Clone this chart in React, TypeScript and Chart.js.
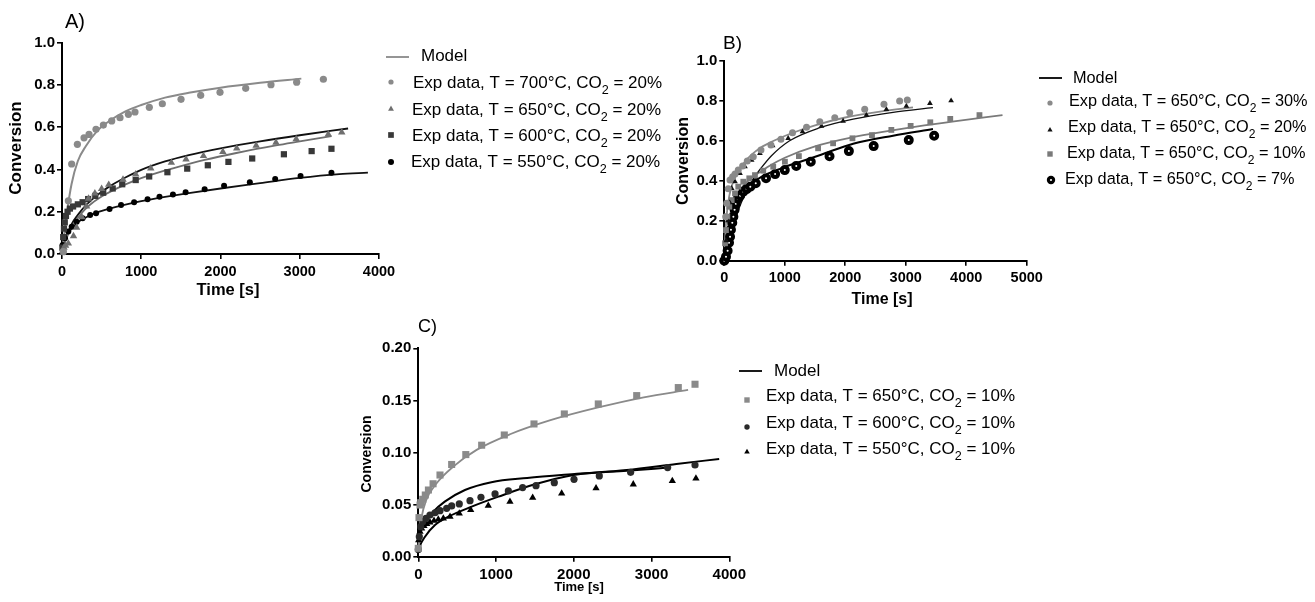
import { useEffect, useRef } from 'react';
import { Chart, registerables } from 'chart.js';

Chart.register(...registerables);

const FONT = '"Liberation Sans", Arial, Helvetica, sans-serif';

// ---------------- Panel A (CO2 = 20%, various T) ----------------
const aExp700T = [17, 80, 122, 194, 278, 341, 429, 522, 627, 732, 838, 921, 1102, 1266, 1502, 1750, 1994, 2318, 2637, 2961, 3298];
const aExp700V = [0.011, 0.252, 0.426, 0.519, 0.55, 0.566, 0.59, 0.61, 0.63, 0.645, 0.661, 0.672, 0.694, 0.711, 0.732, 0.751, 0.765, 0.784, 0.801, 0.813, 0.827];
const aExp650T = [10, 25, 45, 80, 145, 185, 250, 310, 335, 415, 500, 590, 770, 930, 1120, 1380, 1565, 1785, 2030, 2205, 2450, 2700, 2955, 3360, 3530];
const aExp650V = [0.015, 0.03, 0.04, 0.05, 0.085, 0.125, 0.175, 0.225, 0.262, 0.287, 0.308, 0.328, 0.352, 0.377, 0.405, 0.432, 0.448, 0.464, 0.484, 0.5, 0.513, 0.527, 0.544, 0.566, 0.576];
const aExp600T = [5, 15, 25, 35, 50, 70, 100, 140, 200, 260, 330, 420, 520, 640, 760, 930, 1100, 1330, 1580, 1840, 2100, 2400, 2800, 3150, 3400];
const aExp600V = [0.03, 0.08, 0.12, 0.15, 0.18, 0.2, 0.215, 0.225, 0.235, 0.245, 0.26, 0.275, 0.29, 0.31, 0.33, 0.35, 0.367, 0.387, 0.404, 0.42, 0.436, 0.452, 0.472, 0.487, 0.498];
const aExp550T = [8, 38, 80, 122, 185, 260, 355, 430, 600, 745, 910, 1080, 1230, 1400, 1560, 1800, 2045, 2370, 2690, 3010, 3400];
const aExp550V = [0.043, 0.074, 0.106, 0.129, 0.153, 0.169, 0.185, 0.193, 0.213, 0.232, 0.245, 0.259, 0.271, 0.282, 0.292, 0.307, 0.323, 0.339, 0.355, 0.369, 0.385];
const aModel700T = [0, 30, 60, 120, 200, 300, 450, 600, 800, 1000, 1300, 1600, 2000, 2500, 3020];
const aModel700V = [0, 0.1, 0.19, 0.33, 0.44, 0.51, 0.585, 0.63, 0.675, 0.705, 0.74, 0.763, 0.787, 0.81, 0.83];
const aModel650T = [0, 30, 80, 150, 250, 350, 500, 700, 900, 1100, 1400, 1800, 2200, 2700, 3000, 3400];
const aModel650V = [0, 0.045, 0.095, 0.145, 0.195, 0.232, 0.272, 0.312, 0.345, 0.372, 0.405, 0.445, 0.478, 0.514, 0.533, 0.558];
const aModel600T = [0, 20, 60, 120, 200, 300, 450, 600, 800, 1000, 1300, 1600, 2000, 2500, 3000, 3610];
const aModel600V = [0, 0.04, 0.085, 0.14, 0.185, 0.23, 0.28, 0.32, 0.362, 0.398, 0.438, 0.468, 0.5, 0.533, 0.562, 0.594];
const aModel550T = [0, 20, 50, 100, 200, 300, 450, 600, 800, 1000, 1300, 1600, 2000, 2500, 3000, 3500, 3860];
const aModel550V = [0, 0.05, 0.08, 0.11, 0.15, 0.173, 0.198, 0.215, 0.234, 0.25, 0.27, 0.288, 0.31, 0.335, 0.36, 0.378, 0.385];

// ---------------- Panel B (T = 650 C, various CO2) ----------------
const bExp30T = [23, 40, 66, 94, 138, 177, 231, 303, 380, 479, 606, 771, 936, 1128, 1360, 1579, 1827, 2074, 2322, 2640, 2899, 3026];
const bExp30V = [0.22, 0.287, 0.36, 0.403, 0.42, 0.433, 0.453, 0.473, 0.498, 0.52, 0.553, 0.578, 0.607, 0.64, 0.667, 0.695, 0.715, 0.74, 0.757, 0.782, 0.799, 0.803];
const bExp20T = [30, 60, 90, 122, 177, 259, 342, 452, 589, 799, 1056, 1293, 1607, 1964, 2350, 2680, 3010, 3400, 3750];
const bExp20V = [0.1, 0.2, 0.29, 0.362, 0.395, 0.437, 0.47, 0.503, 0.537, 0.575, 0.612, 0.645, 0.673, 0.698, 0.728, 0.757, 0.773, 0.787, 0.8];
const bExp10T = [12, 28, 50, 83, 122, 177, 231, 314, 413, 507, 644, 809, 1002, 1233, 1551, 1799, 2119, 2442, 2762, 3081, 3406, 3736, 4219];
const bExp10V = [0.087, 0.153, 0.22, 0.27, 0.303, 0.337, 0.37, 0.395, 0.412, 0.428, 0.45, 0.47, 0.495, 0.523, 0.562, 0.587, 0.612, 0.628, 0.654, 0.674, 0.692, 0.709, 0.728];
const bExp7T = [0, 28, 55, 78, 95, 110, 132, 150, 170, 190, 222, 262, 314, 369, 430, 520, 690, 840, 1000, 1190, 1430, 1740, 2060, 2470, 3050, 3470];
const bExp7V = [0, 0.02, 0.05, 0.09, 0.12, 0.155, 0.19, 0.22, 0.255, 0.285, 0.31, 0.325, 0.345, 0.358, 0.37, 0.387, 0.412, 0.433, 0.453, 0.474, 0.495, 0.522, 0.548, 0.573, 0.603, 0.625];
const bModel30T = [0, 15, 40, 80, 130, 200, 300, 450, 600, 800, 1100, 1500, 2000, 2600, 3120];
const bModel30V = [0, 0.12, 0.23, 0.32, 0.38, 0.43, 0.48, 0.53, 0.565, 0.597, 0.636, 0.677, 0.716, 0.747, 0.767];
const bModel20T = [0, 60, 120, 230, 370, 480, 600, 780, 1080, 1580, 2130, 2790, 3450];
const bModel20V = [0, 0.06, 0.135, 0.25, 0.35, 0.41, 0.46, 0.525, 0.6, 0.665, 0.708, 0.742, 0.765];
const bModel10T = [0, 30, 70, 120, 200, 300, 450, 600, 750, 1000, 1500, 2100, 2700, 3200, 3800, 4600];
const bModel10V = [0, 0.1, 0.19, 0.26, 0.32, 0.37, 0.415, 0.445, 0.475, 0.515, 0.572, 0.616, 0.648, 0.672, 0.697, 0.728];
const bModel7T = [0, 40, 70, 120, 180, 260, 400, 620, 950, 1280, 1600, 2130, 2790, 3450];
const bModel7V = [0, 0.005, 0.03, 0.12, 0.22, 0.3, 0.37, 0.42, 0.463, 0.497, 0.53, 0.585, 0.625, 0.658];

// ---------------- Panel C (CO2 = 10%, various T) ----------------
const cExp650T = [0, 9, 22, 31, 57, 90, 130, 190, 279, 429, 611, 815, 1106, 1488, 1878, 2315, 2809, 3344, 3559];
const cExp650V = [0.008, 0.0375, 0.0496, 0.0518, 0.0551, 0.0592, 0.064, 0.07, 0.0784, 0.0885, 0.098, 0.107, 0.1168, 0.1274, 0.137, 0.1466, 0.1546, 0.1623, 0.1655];
const cExp600T = [0, 13, 31, 57, 99, 150, 215, 279, 365, 429, 527, 665, 806, 987, 1158, 1342, 1514, 1749, 2003, 2328, 2731, 3207, 3559];
const cExp600V = [0.007, 0.0192, 0.0288, 0.0336, 0.0368, 0.04, 0.0422, 0.0442, 0.0464, 0.0487, 0.0506, 0.0538, 0.057, 0.0602, 0.0631, 0.0663, 0.0682, 0.071, 0.0743, 0.0775, 0.081, 0.0855, 0.088];
const cExp550T = [5, 22, 43, 73, 108, 150, 202, 257, 322, 408, 527, 674, 900, 1179, 1471, 1844, 2286, 2765, 3267, 3571];
const cExp550V = [0.016, 0.024, 0.0272, 0.0295, 0.0314, 0.033, 0.0346, 0.0358, 0.0368, 0.0384, 0.0416, 0.0448, 0.049, 0.0528, 0.0567, 0.0608, 0.0657, 0.0695, 0.0727, 0.0752];
const cModel650T = [0, 10, 40, 100, 230, 450, 750, 1180, 1700, 2300, 2900, 3470];
const cModel650V = [0.005, 0.02, 0.037, 0.054, 0.07, 0.0865, 0.1025, 0.1175, 0.131, 0.143, 0.153, 0.16];
const cModel600T = [0, 20, 86, 215, 386, 686, 1030, 1500, 2000, 2680, 3216];
const cModel600V = [0.004, 0.01, 0.0192, 0.0304, 0.0384, 0.048, 0.0576, 0.0695, 0.0785, 0.0825, 0.0855];
const cModel550T = [0, 10, 40, 100, 170, 340, 600, 940, 1400, 2040, 2680, 3320, 3870];
const cModel550V = [0.012, 0.018, 0.026, 0.035, 0.0416, 0.0528, 0.064, 0.0715, 0.0755, 0.0795, 0.0832, 0.089, 0.0938];

// ---------------- helpers ----------------
const pts = (t: number[], v: number[]) => t.map((x, i) => ({ x, y: v[i] }));

function modelDs(t: number[], v: number[], color: string, width: number) {
  return {
    data: pts(t, v),
    showLine: true,
    borderColor: color,
    backgroundColor: color,
    borderWidth: width,
    pointRadius: 0,
    pointHoverRadius: 0,
    fill: false,
    cubicInterpolationMode: 'monotone',
    clip: false,
  };
}

function expDs(t: number[], v: number[], style: string, color: string, radius: number, extra: any = {}) {
  return {
    data: pts(t, v),
    showLine: false,
    pointStyle: style,
    pointRadius: radius,
    pointHoverRadius: radius,
    backgroundColor: color,
    borderColor: color,
    borderWidth: 0,
    clip: false,
    ...extra,
  };
}

type LegendRow = { kind: string; color: string; mx: number; my: number; r: number; tx: number; ty: number; pre: string; sub: string; post: string };

type Panel = {
  left: number; top: number; w: number; h: number;
  area: { l: number; t: number; r: number; b: number };
  xMax: number; yMax: number; yStep: number; yDec: number;
  xTickSize: number; yTickSize: number;
  label: { text: string; x: number; y: number; size: number };
  yTitle: { x: number; y: number; size: number };
  xTitle: { x: number; y: number; size: number };
  legend: { size: number; lineX1: number; lineX2: number; lineY: number; lineColor: string; modelX: number; modelY: number; rows: LegendRow[] };
  datasets: any[];
};

const PANELS: Panel[] = [
  {
    left: 0, top: 0, w: 680, h: 310,
    area: { l: 62, t: 42.7, r: 379, b: 254 },
    xMax: 4000, yMax: 1.0, yStep: 0.2, yDec: 1,
    xTickSize: 14.5, yTickSize: 15,
    label: { text: 'A)', x: 65, y: 22, size: 20 },
    yTitle: { x: 16, y: 148, size: 17 },
    xTitle: { x: 228, y: 290, size: 16.5 },
    legend: {
      size: 17, lineX1: 386, lineX2: 409, lineY: 57, lineColor: '#8a8a8a', modelX: 421, modelY: 56,
      rows: [
        { kind: 'circle', color: '#8a8a8a', mx: 391, my: 82, r: 2.6, tx: 413, ty: 83, pre: 'Exp data, T = 700°C, CO', sub: '2', post: ' = 20%' },
        { kind: 'triangle', color: '#6f6f6f', mx: 391, my: 109, r: 3.4, tx: 412, ty: 110, pre: 'Exp data, T = 650°C, CO', sub: '2', post: ' = 20%' },
        { kind: 'square', color: '#383838', mx: 391, my: 135, r: 3.8, tx: 412, ty: 136, pre: 'Exp data, T = 600°C, CO', sub: '2', post: ' = 20%' },
        { kind: 'circle', color: '#000000', mx: 391, my: 162, r: 3, tx: 411, ty: 162, pre: 'Exp data, T = 550°C, CO', sub: '2', post: ' = 20%' },
      ],
    },
    datasets: [
      expDs(aExp700T, aExp700V, 'circle', '#8a8a8a', 3.6),
      expDs(aExp650T, aExp650V, 'triangle', '#6f6f6f', 4.3),
      expDs(aExp600T, aExp600V, 'rect', '#383838', 4.4),
      expDs(aExp550T, aExp550V, 'circle', '#000000', 3),
      modelDs(aModel700T, aModel700V, '#8a8a8a', 2),
      modelDs(aModel650T, aModel650V, '#6f6f6f', 1.8),
      modelDs(aModel600T, aModel600V, '#111111', 1.8),
      modelDs(aModel550T, aModel550V, '#111111', 1.8),
    ],
  },
  {
    left: 650, top: 0, w: 665, h: 320,
    area: { l: 724.3, t: 60.7, r: 1026.7, b: 260.7 },
    xMax: 5000, yMax: 1.0, yStep: 0.2, yDec: 1,
    xTickSize: 14.5, yTickSize: 15,
    label: { text: 'B)', x: 723, y: 44, size: 19 },
    yTitle: { x: 684, y: 161, size: 16 },
    xTitle: { x: 882, y: 300, size: 16 },
    legend: {
      size: 16.3, lineX1: 1039, lineX2: 1062, lineY: 78, lineColor: '#000000', modelX: 1073, modelY: 79,
      rows: [
        { kind: 'circle', color: '#8a8a8a', mx: 1050, my: 103, r: 2.6, tx: 1069, ty: 102, pre: 'Exp data, T = 650°C, CO', sub: '2', post: ' = 30%' },
        { kind: 'triangle', color: '#111111', mx: 1050, my: 130, r: 3, tx: 1068, ty: 128, pre: 'Exp data, T = 650°C, CO', sub: '2', post: ' = 20%' },
        { kind: 'square', color: '#7a7a7a', mx: 1050, my: 154, r: 3.6, tx: 1067, ty: 154, pre: 'Exp data, T = 650°C, CO', sub: '2', post: ' = 10%' },
        { kind: 'ring', color: '#000000', mx: 1051, my: 180, r: 4.2, tx: 1065, ty: 180, pre: 'Exp data, T = 650°C, CO', sub: '2', post: ' = 7%' },
      ],
    },
    datasets: [
      expDs(bExp30T, bExp30V, 'circle', '#8a8a8a', 3.5),
      expDs(bExp20T, bExp20V, 'triangle', '#111111', 3.3),
      expDs(bExp10T, bExp10V, 'rect', '#7a7a7a', 4.1),
      expDs(bExp7T, bExp7V, 'circle', '#ffffff', 3, { borderColor: '#000000', borderWidth: 4 }),
      modelDs(bModel30T, bModel30V, '#8a8a8a', 1.8),
      modelDs(bModel20T, bModel20V, '#111111', 1.3),
      modelDs(bModel10T, bModel10V, '#7a7a7a', 1.8),
      modelDs(bModel7T, bModel7V, '#000000', 2),
    ],
  },
  {
    left: 340, top: 310, w: 975, h: 292,
    area: { l: 418.3, t: 348.3, r: 729.3, b: 556.7 },
    xMax: 4000, yMax: 0.2, yStep: 0.05, yDec: 2,
    xTickSize: 15, yTickSize: 15,
    label: { text: 'C)', x: 418, y: 327, size: 18 },
    yTitle: { x: 367, y: 454, size: 14 },
    xTitle: { x: 579, y: 587, size: 13 },
    legend: {
      size: 17, lineX1: 739, lineX2: 762, lineY: 371, lineColor: '#000000', modelX: 774, modelY: 371,
      rows: [
        { kind: 'square', color: '#8a8a8a', mx: 747, my: 400, r: 3.6, tx: 766, ty: 396, pre: 'Exp data, T = 650°C, CO', sub: '2', post: ' = 10%' },
        { kind: 'circle', color: '#2a2a2a', mx: 747, my: 427, r: 2.7, tx: 766, ty: 423, pre: 'Exp data, T = 600°C, CO', sub: '2', post: ' = 10%' },
        { kind: 'triangle', color: '#000000', mx: 747, my: 452, r: 3.2, tx: 766, ty: 449, pre: 'Exp data, T = 550°C, CO', sub: '2', post: ' = 10%' },
      ],
    },
    datasets: [
      expDs(cExp650T, cExp650V, 'rect', '#8a8a8a', 5),
      expDs(cExp600T, cExp600V, 'circle', '#2a2a2a', 3.6),
      expDs(cExp550T, cExp550V, 'triangle', '#000000', 4.2),
      modelDs(cModel650T, cModel650V, '#8a8a8a', 1.8),
      modelDs(cModel600T, cModel600V, '#000000', 2),
      modelDs(cModel550T, cModel550V, '#000000', 2),
    ],
  },
];

function drawMarker(ctx: CanvasRenderingContext2D, kind: string, x: number, y: number, r: number, color: string) {
  ctx.fillStyle = color;
  ctx.beginPath();
  if (kind === 'circle') {
    ctx.arc(x, y, r, 0, Math.PI * 2);
    ctx.fill();
  } else if (kind === 'triangle') {
    ctx.moveTo(x, y - r);
    ctx.lineTo(x + r * 0.866, y + r * 0.5);
    ctx.lineTo(x - r * 0.866, y + r * 0.5);
    ctx.closePath();
    ctx.fill();
  } else if (kind === 'square') {
    ctx.rect(x - r * 0.75, y - r * 0.75, r * 1.5, r * 1.5);
    ctx.fill();
  } else if (kind === 'ring') {
    ctx.arc(x, y, r, 0, Math.PI * 2);
    ctx.fill();
    ctx.beginPath();
    ctx.fillStyle = '#ffffff';
    ctx.arc(x, y, r * 0.25, 0, Math.PI * 2);
    ctx.fill();
  }
}

function decorPlugin(p: Panel, id: number) {
  return {
    id: 'decor' + id,
    afterDraw(chart: any) {
      const ctx: CanvasRenderingContext2D = chart.ctx;
      ctx.save();
      ctx.translate(-p.left, -p.top);
      ctx.fillStyle = '#000';
      ctx.textBaseline = 'middle';
      // panel label
      ctx.textAlign = 'left';
      ctx.font = `${p.label.size}px ${FONT}`;
      ctx.fillText(p.label.text, p.label.x, p.label.y);
      // axis titles
      ctx.textAlign = 'center';
      ctx.font = `bold ${p.xTitle.size}px ${FONT}`;
      ctx.fillText('Time [s]', p.xTitle.x, p.xTitle.y);
      ctx.save();
      ctx.translate(p.yTitle.x, p.yTitle.y);
      ctx.rotate(-Math.PI / 2);
      ctx.font = `bold ${p.yTitle.size}px ${FONT}`;
      ctx.fillText('Conversion', 0, 0);
      ctx.restore();
      // legend
      const L = p.legend;
      ctx.strokeStyle = L.lineColor;
      ctx.lineWidth = 1.8;
      ctx.beginPath();
      ctx.moveTo(L.lineX1, L.lineY);
      ctx.lineTo(L.lineX2, L.lineY);
      ctx.stroke();
      ctx.textAlign = 'left';
      ctx.fillStyle = '#000';
      ctx.font = `${L.size}px ${FONT}`;
      ctx.fillText('Model', L.modelX, L.modelY);
      for (const row of L.rows) {
        drawMarker(ctx, row.kind, row.mx, row.my, row.r, row.color);
        ctx.fillStyle = '#000';
        ctx.font = `${L.size}px ${FONT}`;
        ctx.fillText(row.pre, row.tx, row.ty);
        let cx = row.tx + ctx.measureText(row.pre).width;
        ctx.font = `${L.size * 0.74}px ${FONT}`;
        ctx.fillText(row.sub, cx, row.ty + L.size * 0.42);
        cx += ctx.measureText(row.sub).width;
        ctx.font = `${L.size}px ${FONT}`;
        ctx.fillText(row.post, cx, row.ty);
      }
      ctx.restore();
    },
  };
}

function buildConfig(p: Panel, id: number): any {
  const grid = { display: true, drawOnChartArea: false, drawTicks: true, tickLength: 5, color: '#000', lineWidth: 1.6 };
  const border = { display: true, color: '#000', width: 2 };
  return {
    type: 'scatter',
    data: { datasets: p.datasets },
    options: {
      responsive: false,
      animation: false,
      devicePixelRatio: 1,
      events: [],
      layout: { padding: { left: 0, top: p.area.t - p.top, right: p.left + p.w - p.area.r, bottom: 0 } },
      plugins: { legend: { display: false }, tooltip: { enabled: false }, title: { display: false } },
      scales: {
        x: {
          type: 'linear', position: 'bottom', min: 0, max: p.xMax,
          grid, border,
          ticks: {
            stepSize: 1000, color: '#000', padding: 4, maxRotation: 0, autoSkip: false,
            font: { family: FONT, size: p.xTickSize, weight: 'bold' },
            callback: (v: any) => String(v),
          },
          title: { display: false },
          afterFit: (s: any) => { s.height = p.top + p.h - p.area.b; },
        },
        y: {
          type: 'linear', position: 'left', min: 0, max: p.yMax,
          grid, border,
          ticks: {
            stepSize: p.yStep, color: '#000', padding: 2, autoSkip: false,
            font: { family: FONT, size: p.yTickSize, weight: 'bold' },
            callback: (v: any) => Number(v).toFixed(p.yDec),
          },
          title: { display: false },
          afterFit: (s: any) => { s.width = p.area.l - p.left; },
        },
      },
    },
    plugins: [decorPlugin(p, id)],
  };
}

export default function App() {
  const refs = useRef<(HTMLCanvasElement | null)[]>([]);
  useEffect(() => {
    const charts = PANELS.map((p, i) => new Chart(refs.current[i] as HTMLCanvasElement, buildConfig(p, i)));
    return () => charts.forEach((c) => c.destroy());
  }, []);
  return (
    <div style={{ position: 'fixed', left: 0, top: 0, width: 1315, height: 602, background: '#fff', overflow: 'hidden' }}>
      {PANELS.map((p, i) => (
        <canvas
          key={i}
          ref={(el) => { refs.current[i] = el; }}
          width={p.w}
          height={p.h}
          style={{ position: 'absolute', left: p.left, top: p.top, width: p.w, height: p.h }}
        />
      ))}
    </div>
  );
}
